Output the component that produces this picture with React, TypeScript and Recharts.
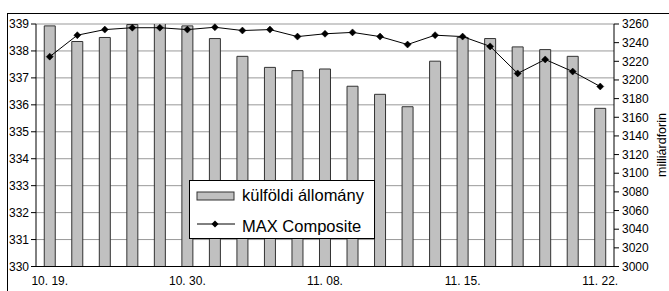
import React from 'react';
import {
  ComposedChart,
  Bar,
  Line,
  XAxis,
  YAxis,
  CartesianGrid,
} from 'recharts';

// trading days, only every 5th one is labelled
const dates = [
  '10. 19.', '10. 22.', '10. 24.', '10. 25.', '10. 26.', '10. 30.', '10. 31.',
  '11. 02.', '11. 05.', '11. 06.', '11. 08.', '11. 09.', '11. 12.', '11. 13.',
  '11. 14.', '11. 15.', '11. 16.', '11. 19.', '11. 20.', '11. 21.', '11. 22.',
];

// külföldi állomány (left axis)
const holdings = [
  338.93, 338.35, 338.5, 338.98, 339.03, 338.93, 338.46, 337.8, 337.39, 337.27,
  337.33, 336.69, 336.39, 335.93, 337.62, 338.5, 338.46, 338.15, 338.05, 337.8,
  335.87,
];

// MAX Composite (right axis)
const maxComposite = [
  3225, 3248, 3254, 3256, 3256, 3254, 3256.5, 3253, 3254, 3246.5,
  3249.5, 3251, 3246.5, 3238, 3248, 3246.5, 3236, 3207, 3222, 3209,
  3193,
];

const leftTicks = [330, 331, 332, 333, 334, 335, 336, 337, 338, 339];
const rightTicks = [
  3000, 3020, 3040, 3060, 3080, 3100, 3120, 3140, 3160, 3180, 3200, 3220, 3240, 3260,
];

const data = dates.map((d, i) => ({
  date: d,
  holdings: holdings[i],
  max: maxComposite[i],
}));

const font = '"Liberation Sans", Arial, sans-serif';

const Diamond = (props: any) => {
  const { cx, cy } = props;
  if (cx == null || cy == null) return null;
  const r = 3.5;
  return (
    <path
      d={`M${cx},${cy - r}L${cx + r},${cy}L${cx},${cy + r}L${cx - r},${cy}Z`}
      fill="#000"
      stroke="#000"
      strokeWidth={0.5}
    />
  );
};

export default function App() {
  return (
    <div
      style={{
        position: 'absolute',
        left: 0,
        top: 0,
        width: 669,
        height: 291,
        background: '#fff',
        overflow: 'hidden',
        fontFamily: font,
      }}
    >
      {/* outer frame of the chart object */}
      <div
        style={{
          position: 'absolute',
          left: 7,
          top: 13,
          width: 700,
          height: 300,
          borderLeft: '1px solid #000',
          borderTop: '1px solid #000',
        }}
      />
      <ComposedChart
        width={669}
        height={291}
        data={data}
        margin={{ top: 24, right: 0, left: 0, bottom: 0 }}
        barCategoryGap="30%"
        style={{ position: 'absolute', left: 0, top: 0 }}
      >
        <CartesianGrid
          yAxisId="left"
          vertical={false}
          stroke="#999"
          strokeWidth={1}
        />
        <XAxis
          dataKey="date"
          interval={4}
          tickLine={false}
          axisLine={{ stroke: '#000' }}
          height={24.5}
          tickMargin={4}
          tick={{ fill: '#000', fontSize: 12, fontFamily: font }}
        />
        <YAxis
          yAxisId="left"
          orientation="left"
          width={36}
          domain={[330, 339]}
          ticks={leftTicks}
          allowDataOverflow
          interval={0}
          tickSize={5}
          tickMargin={2}
          axisLine={{ stroke: '#000' }}
          tickLine={{ stroke: '#000' }}
          tick={{ fill: '#000', fontSize: 12, fontFamily: font }}
        />
        <YAxis
          yAxisId="right"
          orientation="right"
          width={55}
          domain={[3000, 3260]}
          ticks={rightTicks}
          interval={0}
          tickSize={5}
          tickMargin={3}
          axisLine={{ stroke: '#000' }}
          tickLine={{ stroke: '#000' }}
          tick={{ fill: '#000', fontSize: 12, fontFamily: font }}
        />
        <Bar
          yAxisId="left"
          dataKey="holdings"
          fill="#c0c0c0"
          stroke="#333"
          strokeWidth={1}
          isAnimationActive={false}
        />
        <Line
          yAxisId="right"
          dataKey="max"
          stroke="#000"
          strokeWidth={1}
          dot={<Diamond />}
          activeDot={false}
          isAnimationActive={false}
        />
      </ComposedChart>

      {/* right axis unit */}
      <svg
        width={669}
        height={291}
        style={{ position: 'absolute', left: 0, top: 0, pointerEvents: 'none' }}
      >
        <text
          x={666}
          y={145}
          transform="rotate(-90, 666, 145)"
          textAnchor="middle"
          fontSize={12.5}
          fontFamily={font}
          fill="#000"
        >
          milliárdforin
        </text>
      </svg>

      {/* legend */}
      <div
        style={{
          position: 'absolute',
          left: 189,
          top: 180,
          width: 184,
          height: 57,
          border: '1px solid #000',
          background: '#fff',
        }}
      >
        <svg width={184} height={57}>
          <rect x={7} y={11} width={37} height={8} fill="#c0c0c0" stroke="#333" />
          <text x={52} y={19.5} fontSize={16.5} fontFamily={font} fill="#000">
            külföldi állomány
          </text>
          <line x1={7} y1={43} x2={45} y2={43} stroke="#000" strokeWidth={1} />
          <path d="M25,39.5L28.5,43L25,46.5L21.5,43Z" fill="#000" />
          <text x={52} y={51} fontSize={16.5} fontFamily={font} fill="#000">
            MAX Composite
          </text>
        </svg>
      </div>
    </div>
  );
}
